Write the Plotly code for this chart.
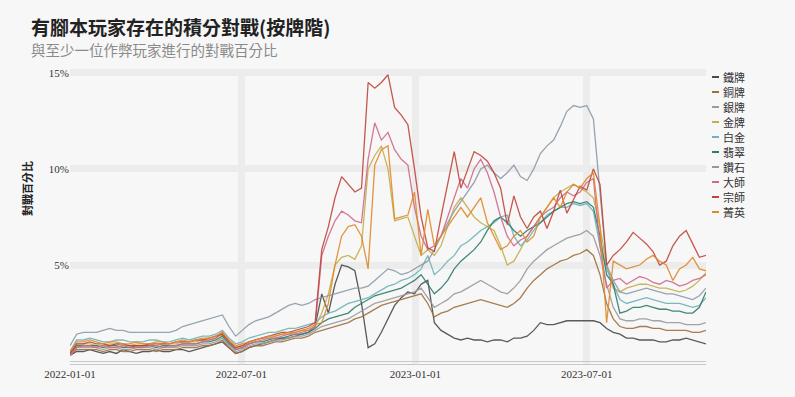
import pandas as pd
import plotly.graph_objects as go

dates = pd.date_range("2022-01-01", periods=97, freq="7D")

names = ["鐵牌", "銅牌", "銀牌", "金牌", "白金", "翡翠", "鑽石", "大師", "宗師", "菁英"]
colors = ["#4a4a4a", "#a0703c", "#9a9a9a", "#c4b04a", "#6fb3b8",
          "#2e7d6b", "#8d9aa8", "#cf6a8c", "#c0463a", "#e08a2c"]

iron = ([0.3,0.5,0.5,0.6,0.5,0.4,0.5,0.4,0.6,0.5,0.4,0.5,0.5,0.6,0.5,0.5,0.6,0.6,0.5,0.6,0.7,0.8,0.9,1.0,0.7,0.4]
        + [0.5,0.7,0.8,0.9,1.0,1.1,1.2,1.2,1.3,1.4,1.5,1.8]
        + [3.5,2.5,4.0,5.0,4.9,4.7,3.0,0.7,0.9,1.5,2.2,2.9,3.3,3.6,3.5,4.0,4.2]
        + [2.0,1.6,1.4,1.2,1.1,1.2,1.1,1.1,1.0,1.1,1.1,1.0,1.2,1.2,1.3,1.6,2.0,1.9,1.9,2.0,2.1,2.1,2.1,2.1,2.1,2.0]
        + [1.7,1.5,1.4,1.2,1.2,1.1,1.1,1.1,1.0,1.0,1.1,1.1,1.2,1.1,1.0,0.9])

bronze = ([0.3,0.6,0.6,0.6,0.6,0.5,0.6,0.6,0.5,0.5,0.6,0.6,0.6,0.5,0.6,0.6,0.6,0.7,0.7,0.7,0.8,0.8,0.9,1.1,0.7,0.4]
          + [0.5,0.7,0.8,0.8,0.9,1.0,1.0,1.1,1.2,1.2,1.3,1.5]
          + [1.6,1.7,1.8,1.9,2.0,2.2,2.3,2.5,2.7,2.9,3.0,3.1,3.2,3.3,3.4,3.5,3.0]
          + [2.3,2.5,2.6,2.8,2.9,3.0,3.1,3.2,3.1,3.0,2.9,2.8,3.0,3.3,3.8,4.2,4.5,4.8,5.0,5.2,5.3,5.5,5.6,5.8,5.5,4.5]
          + [3.0,2.2,1.8,1.7,1.7,1.8,1.8,1.7,1.7,1.6,1.6,1.6,1.6,1.5,1.5,1.6])

silver = ([0.3,0.7,0.7,0.7,0.7,0.6,0.7,0.7,0.6,0.6,0.7,0.7,0.7,0.6,0.7,0.7,0.7,0.8,0.8,0.8,0.9,0.9,1.0,1.2,0.8,0.5]
          + [0.6,0.8,0.9,0.9,1.0,1.1,1.1,1.2,1.3,1.3,1.4,1.6]
          + [1.8,1.9,2.0,2.1,2.2,2.4,2.6,2.8,3.0,3.1,3.2,3.3,3.4,3.5,3.6,3.8,3.3]
          + [2.8,3.0,3.2,3.5,3.6,3.8,4.0,4.2,4.0,3.8,3.6,3.5,3.8,4.2,4.8,5.2,5.5,5.8,6.0,6.2,6.4,6.5,6.6,6.8,6.5,5.5]
          + [4.0,2.8,2.2,2.1,2.1,2.2,2.2,2.1,2.1,2.0,2.0,2.0,1.9,1.9,1.9,2.0])

gold = ([0.4,0.9,0.9,0.9,0.8,0.8,0.9,0.9,0.8,0.8,0.9,0.9,0.9,0.8,0.9,0.9,0.9,1.0,1.0,1.0,1.1,1.1,1.2,1.4,1.0,0.7]
        + [0.8,1.0,1.1,1.2,1.2,1.3,1.4,1.4,1.5,1.6,1.6,1.8]
        + [2.5,3.5,5.0,5.4,5.5,5.3,6.0,10.0,10.7,11.2,10.0,7.3,7.4,7.5,6.5,5.5,5.8]
        + [5.5,6.0,7.0,8.0,8.5,8.0,7.5,7.2,7.0,6.8,6.0,5.0,5.2,5.8,6.5,7.0,7.5,8.0,8.5,8.8,9.0,9.2,9.0,8.8,8.5,7.0]
        + [5.0,3.8,3.6,3.8,3.9,4.0,4.0,3.9,3.8,3.8,3.7,3.6,3.7,3.9,4.2,4.6])

platinum = ([0.5,1.1,1.1,1.2,1.1,1.0,1.0,1.1,1.1,1.0,1.0,1.0,1.1,1.1,1.0,1.0,1.1,1.2,1.1,1.2,1.3,1.3,1.4,1.6,1.2,0.9]
            + [1.0,1.2,1.3,1.4,1.5,1.5,1.6,1.7,1.7,1.8,1.9,2.0]
            + [2.3,2.5,2.6,2.8,3.0,3.1,3.2,3.3,3.5,3.7,3.9,4.0,4.2,4.3,4.5,4.8,5.5]
            + [4.5,4.8,5.2,5.5,6.0,6.2,6.5,6.8,7.0,7.2,7.5,7.6,6.5,6.0,6.3,6.8,7.2,7.6,7.8,8.0,8.0,8.2,8.1,8.2,7.8,6.0]
            + [4.8,4.0,3.2,3.0,3.1,3.2,3.3,3.2,3.1,3.0,3.0,3.0,2.9,2.8,2.9,3.3])

emerald = ([0.4,0.8,0.8,0.8,0.8,0.7,0.8,0.8,0.7,0.7,0.8,0.8,0.8,0.7,0.8,0.8,0.8,0.9,0.9,0.9,1.0,1.0,1.1,1.3,0.9,0.6]
           + [0.7,0.9,1.0,1.0,1.1,1.2,1.2,1.3,1.4,1.4,1.5,1.7]
           + [2.0,2.2,2.3,2.4,2.5,2.8,3.0,3.2,3.4,3.5,3.6,3.7,3.8,4.0,4.2,4.5,4.0]
           + [3.5,3.8,4.2,4.8,5.2,5.5,5.8,6.2,6.8,7.3,7.5,7.2,6.8,6.5,6.8,7.0,7.2,7.5,7.8,8.0,8.2,8.3,8.2,8.3,8.0,6.5]
           + [4.5,4.0,2.5,2.6,2.8,2.8,2.9,2.8,2.7,2.7,2.6,2.6,2.5,2.5,2.8,3.6])

diamond = ([0.8,1.4,1.5,1.5,1.5,1.6,1.7,1.6,1.6,1.5,1.5,1.5,1.5,1.5,1.5,1.5,1.6,1.8,1.9,2.0,2.1,2.2,2.3,2.4,1.8,1.3]
           + [1.6,1.9,2.1,2.2,2.3,2.5,2.7,2.9,3.0,2.9,3.0,3.2]
           + [3.3,3.4,3.5,3.6,3.7,3.8,3.8,3.9,4.2,4.5,4.8,4.7,4.5,4.6,4.8,5.0,5.2]
           + [5.8,6.5,7.2,7.8,8.3,8.8,9.3,10.0,10.2,9.8,9.5,9.8,10.2,9.6,9.4,10.0,10.8,11.2,11.5,12.2,13.0,13.3,13.2,13.3,12.6,8.8]
           + [5.0,4.2,3.6,3.5,3.6,3.7,3.8,3.7,3.6,3.5,3.5,3.4,3.3,3.2,3.4,3.8])

master = ([0.3,0.7,0.8,0.8,0.7,0.8,0.7,0.7,0.8,0.7,0.7,0.7,0.8,0.8,0.7,0.8,0.8,0.9,0.9,0.9,1.0,1.1,1.2,1.5,1.0,0.6]
          + [0.7,0.9,1.0,1.1,1.2,1.2,1.3,1.4,1.4,1.5,1.6,1.8]
          + [5.5,6.5,7.3,7.8,7.6,7.3,7.2,10.5,12.4,11.5,11.9,11.0,10.5,10.2,8.0,6.5,5.8]
          + [6.0,6.5,7.5,8.5,9.5,9.0,10.0,10.5,9.8,8.8,7.5,6.5,6.0,6.3,6.5,7.0,7.5,7.8,8.0,8.5,8.8,8.6,8.8,9.3,9.5,6.0]
          + [3.8,4.2,4.3,4.0,4.2,4.4,4.3,4.1,4.0,4.2,4.1,3.9,4.0,4.2,4.3,4.5])

grandmaster = ([0.4,0.9,0.9,1.0,0.9,0.9,0.8,0.9,0.9,0.8,0.8,0.8,0.9,0.9,0.9,0.9,1.0,1.0,1.0,1.1,1.1,1.2,1.3,1.4,1.0,0.7]
               + [0.8,1.0,1.1,1.2,1.3,1.4,1.5,1.5,1.6,1.7,1.8,2.0]
               + [5.8,7.0,8.5,9.6,9.2,8.8,9.0,14.5,14.2,14.5,14.9,13.2,12.8,12.3,10.0,7.5,5.9]
               + [5.7,7.5,9.2,10.9,9.0,10.0,10.9,10.7,10.4,9.8,9.0,7.1,8.6,7.5,6.9,7.5,7.8,6.9,7.8,8.9,7.7,8.4,9.1,8.9,10.0,9.2]
               + [5.0,5.5,5.8,6.2,6.7,6.4,6.1,5.7,5.0,5.2,6.0,6.5,6.8,6.1,5.4,5.5])

challenger = ([0.5,1.0,1.0,1.1,1.0,0.9,1.0,1.0,0.9,0.9,1.0,0.9,0.9,1.0,1.0,0.9,1.0,1.1,1.0,1.1,1.2,1.2,1.3,1.5,1.1,0.8]
              + [0.9,1.0,1.1,1.2,1.3,1.3,1.4,1.5,1.5,1.6,1.7,1.9]
              + [2.0,3.0,5.0,6.5,7.0,7.1,6.5,4.8,10.2,11.0,11.2,7.4,7.5,7.6,8.8,5.5,7.9]
              + [6.0,6.5,7.0,7.5,8.0,7.5,8.0,8.5,7.2,6.5,5.8,6.0,6.5,6.8,6.2,6.5,7.5,8.0,8.5,8.0,8.8,9.2,9.0,9.5,9.8,7.0]
              + [2.0,5.2,5.0,4.8,4.9,5.0,5.3,5.5,5.2,5.0,4.2,4.8,5.0,5.4,4.8,4.7])

series = [iron, bronze, silver, gold, platinum, emerald, diamond, master, grandmaster, challenger]

x_ticks = ["2022-01-01", "2022-07-01", "2023-01-01", "2023-07-01"]
y_ticks = [5, 10, 15]
y_tick_text = ["5%", "10%", "15%"]

title = "有腳本玩家存在的積分對戰(按牌階)"
subtitle = "與至少一位作弊玩家進行的對戰百分比"
y_title = "對戰百分比"

W, H = 795, 397
L, R, T, B = 70, 89, 69, 33
pw, ph = W - L - R, H - T - B

def px(xp):
    return (xp - L) / pw

def py(yp):
    return (H - B - yp) / ph

cjk = "Noto Sans CJK TC, Noto Sans CJK SC, sans-serif"
serif = "Liberation Serif, DejaVu Serif, serif"

fig = go.Figure()
for name, col, vals in zip(names, colors, series):
    fig.add_trace(go.Scatter(x=dates, y=vals, name=name, mode="lines",
                             line=dict(color=col, width=1.3), opacity=0.9,
                             showlegend=False))

annotations = [
    dict(text=f"<b>{title}</b>", x=px(30), y=py(26), xref="paper", yref="paper",
         xanchor="left", yanchor="middle", showarrow=False, borderpad=0,
         font=dict(family=cjk, size=19, color="#222222")),
    dict(text=subtitle, x=px(30), y=py(49.5), xref="paper", yref="paper",
         xanchor="left", yanchor="middle", showarrow=False, borderpad=0,
         font=dict(family=cjk, size=14.5, color="#8a8a8a")),
    dict(text=f"<b>{y_title}</b>", x=px(27), y=py(189), xref="paper", yref="paper",
         xanchor="center", yanchor="middle", textangle=-90, showarrow=False,
         font=dict(family=cjk, size=11, color="#222222")),
]
shapes = []
for k, (name, col) in enumerate(zip(names, colors)):
    yy = 77 + 15 * k
    annotations.append(dict(text=name, x=px(722), y=py(yy), xref="paper", yref="paper",
                            xanchor="left", yanchor="middle", showarrow=False, borderpad=0,
                            font=dict(family=cjk, size=11, color="#333333")))
    shapes.append(dict(type="line", xref="paper", yref="paper",
                       x0=px(712), x1=px(719), y0=py(yy), y1=py(yy),
                       line=dict(color=col, width=2)))

fig.update_layout(
    width=W, height=H,
    margin=dict(l=L, r=R, t=T, b=B),
    paper_bgcolor="#f7f7f7", plot_bgcolor="#f7f7f7",
    showlegend=False,
    annotations=annotations, shapes=shapes,
    xaxis=dict(range=["2022-01-01", "2023-11-04"], tickvals=x_ticks, ticktext=x_ticks,
               showgrid=True, gridcolor="#ececec", gridwidth=7,
               showline=True, linecolor="#c8c8c8", linewidth=1,
               zeroline=False, ticks="",
               tickfont=dict(family=serif, size=11, color="#333333")),
    yaxis=dict(range=[-0.15, 15.2], tickvals=y_ticks, ticktext=y_tick_text,
               showgrid=True, gridcolor="#ececec", gridwidth=7,
               zeroline=True, zerolinecolor="#c8c8c8", zerolinewidth=1,
               showline=False, ticks="",
               tickfont=dict(family=serif, size=11, color="#333333")),
)

fig.write_html("out.html", config={"displayModeBar": False},
               post_script="document.body.style.margin='0';document.body.style.overflow='hidden';document.body.style.background='#f7f7f7';")
